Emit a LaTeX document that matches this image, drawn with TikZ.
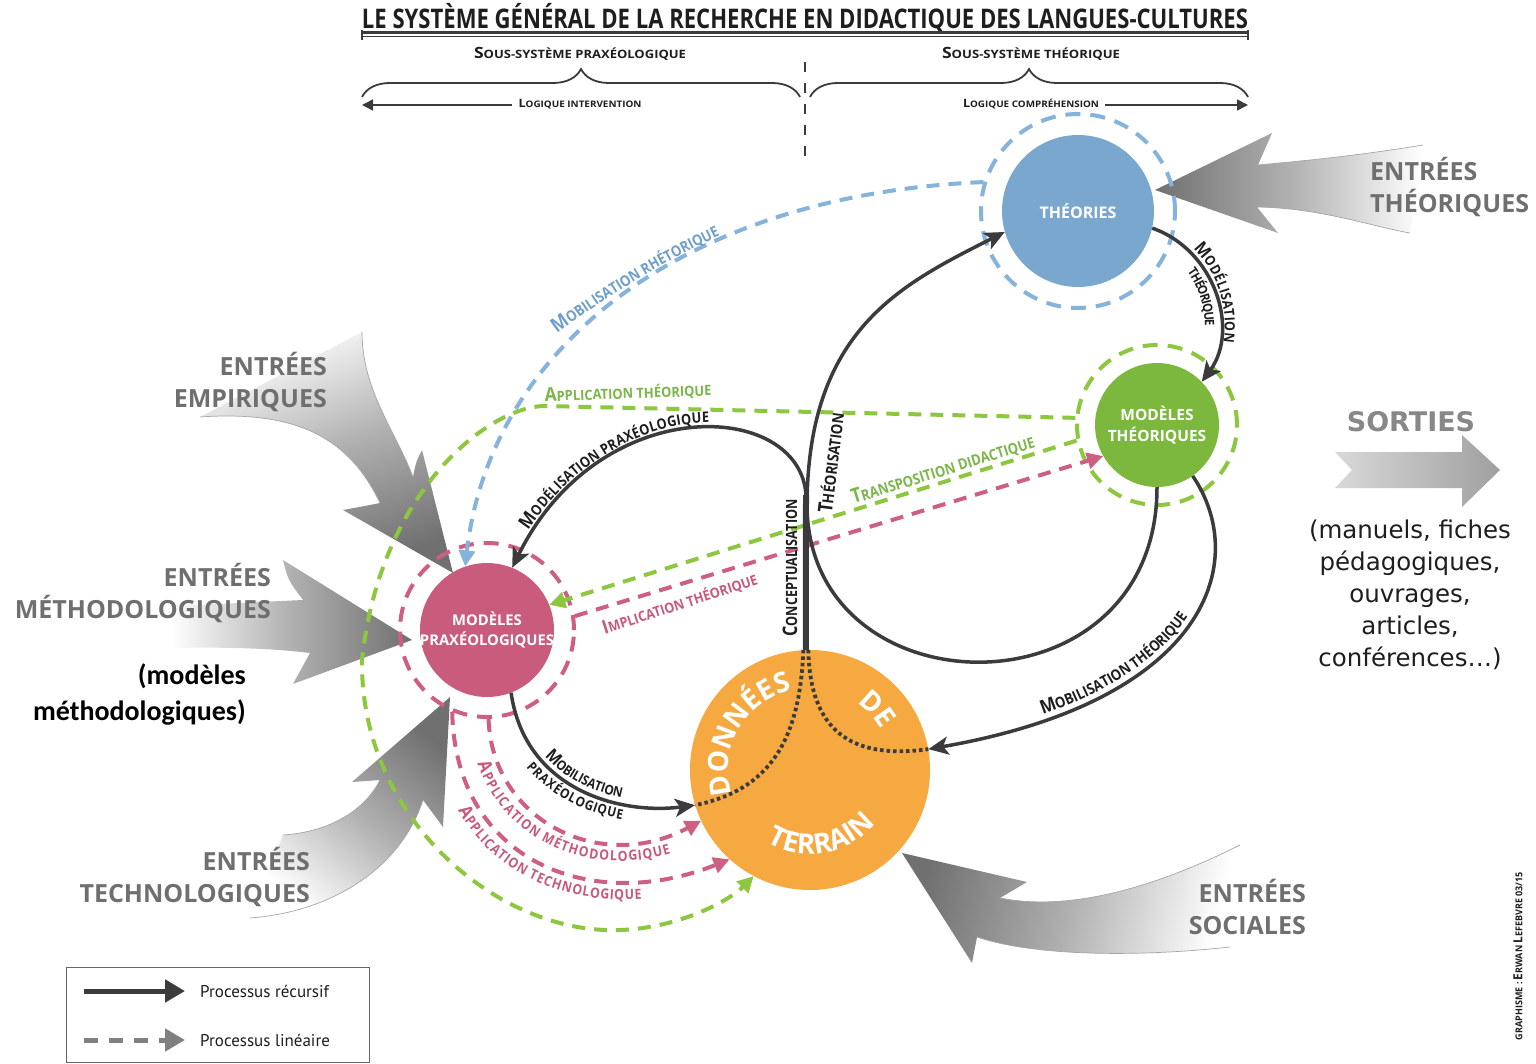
\documentclass[tikz,border=0pt]{standalone}
\usepackage{fontspec}
\usepackage{graphicx}
\setmainfont{Open Sans}
\newfontfamily\cf{Open Sans}[FakeStretch=0.88]
\newfontfamily\dvs{DejaVu Sans}
\newfontfamily\clb{Carlito}
\newfontfamily\pts{PT Sans}
\usetikzlibrary{arrows.meta,decorations.text,decorations.pathreplacing,calc}
\definecolor{dk}{HTML}{3B3B3D}
\definecolor{tk}{HTML}{1E1E1E}
\definecolor{cblue}{HTML}{7AA7CD}
\definecolor{cbluel}{HTML}{85B3DB}
\definecolor{tblue}{HTML}{6E9FCB}
\definecolor{cgreen}{HTML}{7CB83E}
\definecolor{cgreenl}{HTML}{8DC63F}
\definecolor{tgreen}{HTML}{7AB648}
\definecolor{cpink}{HTML}{C95B7D}
\definecolor{cpinkl}{HTML}{CF5F82}
\definecolor{tpink}{HTML}{C9587A}
\definecolor{corange}{HTML}{F5A940}
\definecolor{cgray}{HTML}{6F6F6F}
\definecolor{sgray}{HTML}{888888}
\definecolor{ga}{HTML}{707070}
\definecolor{gb}{HTML}{B0B0B0}
\newcommand\mysc[4]{{\fontsize{#1}{#1}\selectfont #3}{\fontsize{#2}{#2}\selectfont #4}}
\newcommand\fmt[2]{\cf\bfseries\fontsize{#1}{#1}\selectfont\color{#2}}
\tikzset{
  rec/.style={draw=dk, line width=3.5pt, -{Stealth[length=20pt,width=18pt,inset=5pt]}},
  lin/.style={line width=4pt, dash pattern=on 13pt off 9pt, -{Triangle[length=16pt,width=16pt]}},
  dotl/.style={draw=dk, line width=3.8pt, dash pattern=on 3.5pt off 3pt},
  disc/.style={circle, inner sep=0pt, draw=none},
  ring/.style={circle, inner sep=0pt, line width=4pt, dash pattern=on 15pt off 10pt},
  entree/.style={font=\bfseries\fontsize{25}{32}\selectfont, text=cgray, inner sep=0pt, align=right},
  tailline/.style={draw=gray!70, line width=0.7pt},
  lbl/.style={inner sep=0pt},
  disctext/.style={inner sep=0pt, text=white, align=center},
}
\begin{document}
\begin{tikzpicture}[x=1pt,y=-1pt]
\useasboundingbox (0,0) rectangle (1536,1064);
\fill[white] (0,0) rectangle (1536,1064);

% ---------------- header
\node[lbl, text=tk] (title) at (805,18) {\resizebox{886pt}{\height}{\cf\bfseries\fontsize{27}{27}\selectfont LE SYSTÈME GÉNÉRAL DE LA RECHERCHE EN DIDACTIQUE DES LANGUES-CULTURES}};
\coordinate (ul1) at (362,32.5); \coordinate (ul2) at (1248,32.5);
\draw[dk, line width=2.4pt] (ul1) -- (ul2);
\draw[dk, line width=0.8pt] ([yshift=-3.5pt]ul1) -- ([yshift=-3.5pt]ul2);
\draw[dk, line width=1.2pt] ([yshift=2pt]ul1) -- ([yshift=-8pt]ul1);
\draw[dk, line width=1.2pt] ([yshift=2pt]ul2) -- ([yshift=-8pt]ul2);

\node[lbl, text=tk] (ssp) at (580,54) {\resizebox{212pt}{\height}{\cf\bfseries\mysc{15.5}{11.5}{S}{OUS-SYSTÈME PRAXÉOLOGIQUE}}};
\node[lbl, text=tk] (sst) at (1031,54) {\resizebox{178pt}{\height}{\cf\bfseries\mysc{15.5}{11.5}{S}{OUS-SYSTÈME THÉORIQUE}}};

\coordinate (b1) at (362,97); \coordinate (b2) at (800,97);
\coordinate (b3) at (810,97); \coordinate (b4) at (1248,97);
\draw[dk, line width=1.8pt, decorate, decoration={brace, amplitude=28pt}] (b1) -- (b2);
\draw[dk, line width=1.8pt, decorate, decoration={brace, amplitude=28pt}] (b3) -- (b4);

\node[lbl, text=tk] (li) at (580,104) {\resizebox{123pt}{\height}{\cf\bfseries\mysc{11.5}{9}{L}{OGIQUE INTERVENTION}}};
\node[lbl, text=tk] (lc) at (1031,104) {\resizebox{136pt}{\height}{\cf\bfseries\mysc{11.5}{9}{L}{OGIQUE COMPRÉHENSION}}};
\coordinate (liend) at (362,105); \coordinate (lcend) at (1248,105);
\draw[dk, line width=1.5pt, -{Triangle[length=11pt,width=11pt]}] ([xshift=-6pt]li.west |- liend) -- (liend);
\draw[dk, line width=1.5pt, -{Triangle[length=11pt,width=11pt]}] ([xshift=6pt]lc.east |- lcend) -- (lcend);
\coordinate (vd1) at (805,62); \coordinate (vd2) at (805,160);
\draw[dk, line width=2pt, dash pattern=on 10pt off 11pt] (vd1) -- (vd2);

% ---------------- grey input arrows
% theoriques
\path[top color=white, bottom color=ga, middle color=gb, shading angle=-90]
  (1155,190) -- (1272,133) -- (1258,165)
  .. controls (1290,162) and (1350,157) .. (1423,145) -- (1410,233)
  .. controls (1370,226) and (1320,208) .. (1257,207)
  -- (1278,233) -- cycle;
\draw[tailline] (1258,165) .. controls (1290,162) and (1350,157) .. (1423,145);
\draw[tailline] (1410,233) .. controls (1370,226) and (1320,208) .. (1257,207);
% empiriques
\path[top color=white, bottom color=ga, middle color=gb, shading angle=22]
  (453,573) -- (422,450) .. controls (416,462) .. (413,477)
  .. controls (395,430) and (362,390) .. (362,332) -- (200,417)
  .. controls (300,410) and (350,440) .. (380,503)
  .. controls (365,506) .. (343,510) -- cycle;
\draw[tailline] (413,477) .. controls (395,430) and (362,390) .. (362,332);
\draw[tailline] (200,417) .. controls (300,410) and (350,440) .. (380,503);
% methodologiques
\path[top color=white, bottom color=ga, middle color=gb, shading angle=90]
  (412,640) -- (283,560) .. controls (288,580) .. (303,600)
  .. controls (260,602) and (220,604) .. (170,606) -- (170,648)
  .. controls (220,647) and (270,648) .. (310,653)
  -- (293,684) -- cycle;
% technologiques
\path[top color=white, bottom color=ga, middle color=gb, shading angle=140]
  (450,697) -- (352,782) -- (380,780)
  .. controls (365,810) and (330,832) .. (283,835) -- (250,918)
  .. controls (330,912) and (400,870) .. (423,800)
  -- (443,827) -- cycle;
\draw[tailline] (380,780) .. controls (365,810) and (330,832) .. (283,835);
\draw[tailline] (250,918) .. controls (330,912) and (400,870) .. (423,800);
% sociales
\path[top color=white, bottom color=ga, middle color=gb, shading angle=-103]
  (902,853) -- (1027,882) -- (1000,898)
  .. controls (1060,910) and (1140,895) .. (1240,845) -- (1230,947)
  .. controls (1130,958) and (1030,955) .. (977,937)
  -- (972,963) -- cycle;
\draw[tailline] (1000,898) .. controls (1060,910) and (1140,895) .. (1240,845);
\draw[tailline] (1230,947) .. controls (1130,958) and (1030,955) .. (977,937);
% sorties
\path[left color=gray!30, right color=gray!75]
  (1335,452) -- (1462,452) -- (1462,435) -- (1500,470) -- (1462,507) -- (1462,488) -- (1335,488) -- (1352,470) -- cycle;

% ---------------- circles
\node[disc, fill=cblue, minimum size=152pt] (th) at (1078,211) {};
\node[ring, draw=cbluel, minimum size=194pt] (thr) at (1078,211) {};
\node[disc, fill=cgreen, minimum size=124pt] (mt) at (1157,425) {};
\node[ring, draw=cgreenl, minimum size=160pt] (mtr) at (1157,425) {};
\node[disc, fill=cpink, minimum size=134pt] (mp) at (487,630) {};
\node[ring, draw=cpinkl, minimum size=174pt] (mpr) at (487,630) {};
\node[disc, fill=corange, minimum size=240pt] (dt) at (810,770) {};

\node[disctext, font=\bfseries\fontsize{16}{16}\selectfont] (thl) at (th) {THÉORIES};
\node[disctext, font=\bfseries\fontsize{15.5}{21}\selectfont] (mtl) at (mt) {MODÈLES\\THÉORIQUES};
\node[disctext, font=\bfseries\fontsize{14.8}{20}\selectfont] (mpl) at (mp) {MODÈLES\\PRAXÉOLOGIQUES};

% ---------------- dashed (linear) connectors
\draw[lin, cbluel] (thr.163) .. controls (680,195) and (490,350) .. (mp.109);
\draw[lin, cgreenl] (mtr.175) -- (545,406) .. controls (490,406) and (380,490) .. (362,660)
  .. controls (360,820) and (500,935) .. (620,930) .. controls (680,928) and (730,900) .. (dt.242);
\draw[lin, cgreenl] (mtr.191) -- (mp.22);
\draw[lin, cpinkl] (mpr.9) -- (mt.210);
\draw[lin, cpinkl] (mpr.271) .. controls (492,820) and (600,875) .. (dt.205);
\draw[lin, cpinkl] (mpr.247) .. controls (455,860) and (590,915) .. (dt.228);

% ---------------- recursive connectors
\coordinate (stemtop) at (806,495);
\draw[dk, line width=6pt] (dt.92) -- (stemtop);
\draw[rec] (mt.270) .. controls (1157,720) and (808,715) .. (807,505) .. controls (808,330) and (900,285) .. (th.196);
\draw[rec] (stemtop) .. controls (800,400) and (600,390) .. (mp.68);
\draw[rec] (th.347) .. controls (1215,250) and (1240,330) .. (mt.44);
\draw[rec] (mt.305) .. controls (1250,560) and (1210,700) .. (dt.10);
\draw[rec] (mp.291) .. controls (525,790) and (620,815) .. (dt.197);
\draw[dotl] ([xshift=-2.5pt]dt.92) .. controls (800,740) and (770,790) .. (dt.197);
\draw[dotl] ([xshift=2.5pt]dt.92) .. controls (810,730) and (850,760) .. (dt.10);

% ---------------- connector labels
\path[decorate, decoration={text along path, text align=center,
  text={|\fmt{20}{tblue}|M|\fmt{15}{tblue}|OBILISATION RHÉTORIQUE}}]
  (535,350) .. controls (600,300) and (660,262) .. (745,224);
\node[lbl, text=tgreen, rotate=2] (lat) at (628,393) {\resizebox{167pt}{\height}{\cf\bfseries\mysc{19}{14}{A}{PPLICATION THÉORIQUE}}};
\node[lbl, text=tgreen, rotate=17.3] (ltd) at (943,470) {\resizebox{191pt}{\height}{\cf\bfseries\mysc{20}{15}{T}{RANSPOSITION DIDACTIQUE}}};
\node[lbl, text=tpink, rotate=18] (lit) at (680,604) {\resizebox{162pt}{\height}{\cf\bfseries\mysc{19}{14}{I}{MPLICATION THÉORIQUE}}};
\node[lbl, text=tk, rotate=90] (lcon) at (790,568) {\resizebox{137pt}{\height}{\cf\bfseries\mysc{20}{15.5}{C}{ONCEPTUALISATION}}};
\node[lbl, text=tk, rotate=83] (lthe) at (831,463) {\resizebox{101pt}{\height}{\cf\bfseries\mysc{20}{15.5}{T}{HÉORISATION}}};
\path[decorate, decoration={text along path, text align={left, left indent=40pt}, raise=5pt,
  text={|\fmt{19}{tk}|M|\fmt{14.5}{tk}|ODÉLISATION PRAXÉOLOGIQUE}}]
  (mp.68) .. controls (600,390) and (800,400) .. (stemtop);
\path[decorate, decoration={text along path, text align=center, raise=5pt,
  text={|\fmt{17.5}{tk}|M|\fmt{13.5}{tk}|OBILISATION}}]
  (mp.291) .. controls (525,790) and (620,815) .. (dt.197);
\path[decorate, decoration={text along path, text align=center, raise=-16pt,
  text={|\fmt{13.5}{tk}|PRAXÉOLOGIQUE}}]
  (mp.291) .. controls (525,790) and (620,815) .. (dt.197);
\path[decorate, decoration={text along path, text align=center, raise=5pt,
  text={|\fmt{18}{tk}|M|\fmt{14}{tk}|ODÉLISATION}}]
  (th.347) .. controls (1215,250) and (1240,330) .. (mt.44);
\path[decorate, decoration={text along path, text align=center, raise=-15pt,
  text={|\fmt{13}{tk}|THÉORIQUE}}]
  (th.347) .. controls (1215,250) and (1240,330) .. (mt.44);
\path[decorate, decoration={text along path, text align={left, left indent=120pt}, raise=5pt,
  text={|\fmt{19}{tk}|M|\fmt{15}{tk}|OBILISATION THÉORIQUE}}]
  (dt.10) .. controls (1210,700) and (1250,560) .. (mt.305);
\path[decorate, decoration={text along path, text align=center, raise=-19pt,
  text={|\fmt{18.5}{tpink}|A|\fmt{14}{tpink}|PPLICATION MÉTHODOLOGIQUE}}]
  (mpr.271) .. controls (492,820) and (600,875) .. (dt.205);
\path[decorate, decoration={text along path, text align=center, raise=-19pt,
  text={|\fmt{18.5}{tpink}|A|\fmt{14}{tpink}|PPLICATION TECHNOLOGIQUE}}]
  (mpr.247) .. controls (455,860) and (590,915) .. (dt.228);

% ---------------- donnees de terrain
\path[decorate, decoration={text along path, text align=center,
  text={|\bfseries\fontsize{28}{28}\selectfont\color{white}|DONNÉES}}]
  ([shift={(215:82pt)}]dt.center) arc[start angle=215, end angle=85, radius=82pt];
\path[decorate, decoration={text along path, text align=center,
  text={|\bfseries\fontsize{28}{28}\selectfont\color{white}|DE}}]
  ([shift={(80:82pt)}]dt.center) arc[start angle=80, end angle=5, radius=82pt];
\path[decorate, decoration={text along path, text align=center,
  text={|\bfseries\fontsize{28}{28}\selectfont\color{white}|TERRAIN}}]
  ([shift={(215:84pt)}]dt.center) arc[start angle=215, end angle=345, radius=84pt];

% ---------------- entries text
\node[entree, anchor=east] (eemp) at (327,382) {ENTRÉES\\EMPIRIQUES};
\node[entree, anchor=east] (emet) at (271,593) {ENTRÉES\\MÉTHODOLOGIQUES};
\node[entree, anchor=east] (etec) at (310,877) {ENTRÉES\\TECHNOLOGIQUES};
\node[entree, anchor=east] (esoc) at (1306,907) {ENTRÉES\\SOCIALES};
\node[entree, anchor=west, align=left] (ethe) at (1370,187) {ENTRÉES\\THÉORIQUES};
\node[lbl, anchor=east, align=right, text=black, font=\clb\bfseries\fontsize{28}{36}\selectfont] (mmeth) at (246,694) {(modèles\\méthodologiques)};

\node[lbl, text=sgray, font=\dvs\bfseries\fontsize{27}{27}\selectfont] (sort) at (1411,422) {SORTIES};
\node[lbl, align=center, text=tk, font=\dvs\fontsize{24.5}{32}\selectfont] (sortt) at (1410,595) {(manuels, fiches\\pédagogiques,\\ouvrages,\\articles,\\conférences…)};

% ---------------- legend
\node[draw=gray!80!black, line width=1.3pt, minimum width=303pt, minimum height=95pt, inner sep=0pt, anchor=north west] (leg) at (66,967) {};
\coordinate (la1) at (84,991); \coordinate (la2) at (185,991);
\coordinate (lb1) at (84,1040); \coordinate (lb2) at (185,1040);
\draw[dk, line width=5pt, -{Triangle[length=20pt,width=22pt]}] (la1) -- (la2);
\draw[gray, line width=5pt, dash pattern=on 14pt off 11pt, -{Triangle[length=20pt,width=22pt]}] (lb1) -- (lb2);
\node[lbl, anchor=west, text=tk, font=\pts\fontsize{17}{17}\selectfont] (lrec) at (200,991) {Processus récursif};
\node[lbl, anchor=west, text=tk, font=\pts\fontsize{17}{17}\selectfont] (llin) at (200,1040) {Processus linéaire};

% ---------------- credit
\node[lbl, rotate=90, text=tk] (cred) at (1518,956) {\resizebox{168pt}{\height}{\cf\bfseries\mysc{9.5}{9.5}{}{GRAPHISME : }\mysc{12.5}{9.5}{E}{RWAN }\mysc{12.5}{9.5}{L}{EFEBVRE 03/15}}};
\end{tikzpicture}
\end{document}
